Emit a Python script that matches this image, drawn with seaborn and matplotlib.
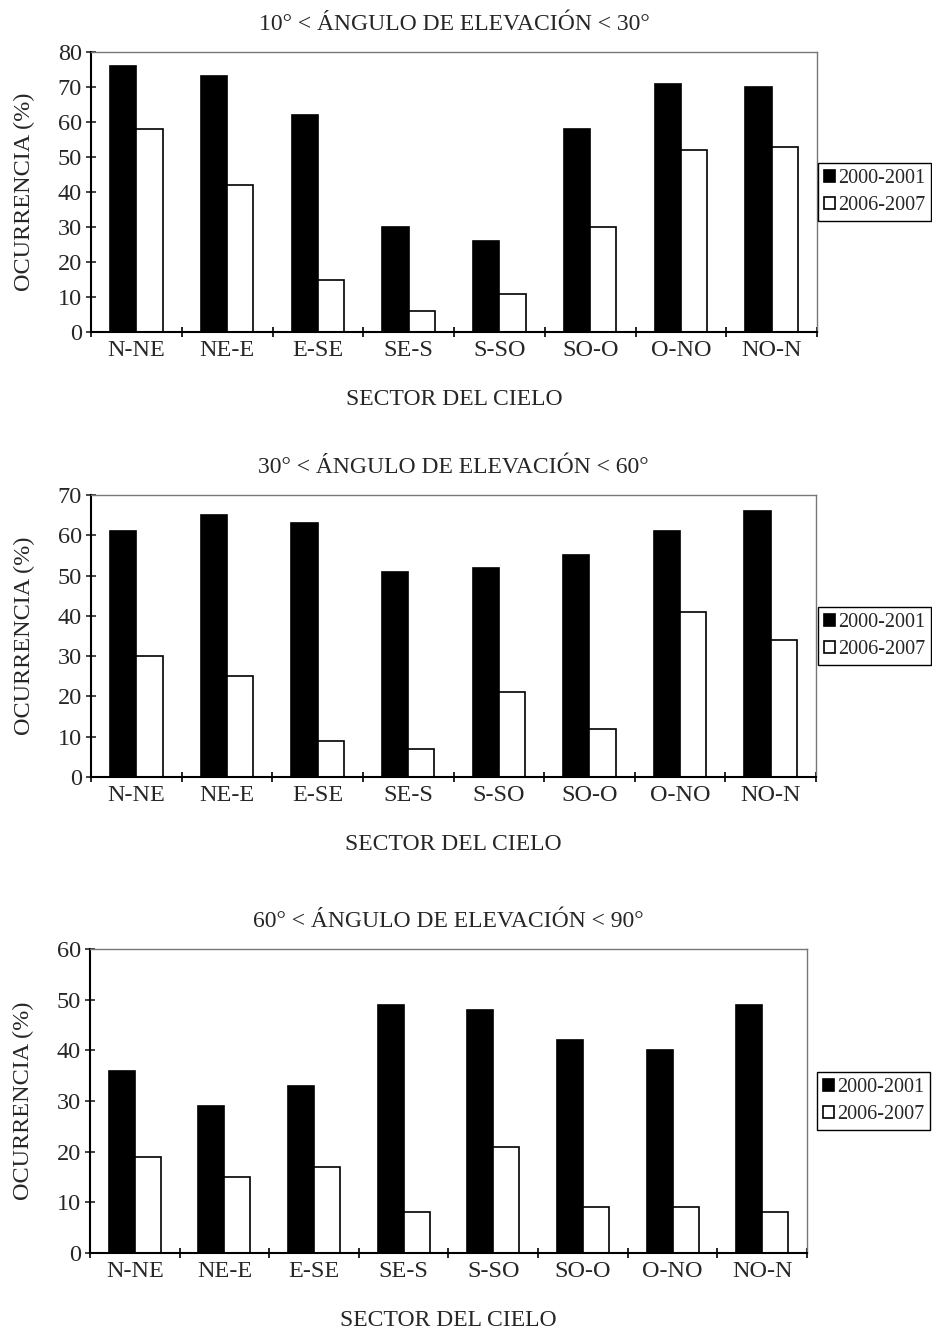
import pandas as pd
import numpy as np
import matplotlib
matplotlib.use("Agg")
import matplotlib.pyplot as plt
import seaborn as sns
from matplotlib.ticker import FixedLocator, MultipleLocator

# data
sectors = ["N-NE", "NE-E", "E-SE", "SE-S", "S-SO", "SO-O", "O-NO", "NO-N"]
periods = ["2000-2001", "2006-2007"]

low_2000 = [76, 73, 62, 30, 26, 58, 71, 70]
low_2006 = [58, 42, 15, 6, 11, 30, 52, 53]
mid_2000 = [61, 65, 63, 51, 52, 55, 61, 66]
mid_2006 = [30, 25, 9, 7, 21, 12, 41, 34]
high_2000 = [36, 29, 33, 49, 48, 42, 40, 49]
high_2006 = [19, 15, 17, 8, 21, 9, 9, 8]

titles = ["10° < ÁNGULO DE ELEVACIÓN < 30°",
          "30° < ÁNGULO DE ELEVACIÓN < 60°",
          "60° < ÁNGULO DE ELEVACIÓN < 90°"]
ymax = [80, 70, 60]

sns.set_style("white")
plt.rcParams["font.family"] = ["Liberation Serif", "DejaVu Serif"]

fig = plt.figure(figsize=(9.32, 13.29), dpi=100)
W, H = 932, 1329

# axes boxes in pixels: left, top, right, bottom
boxes = [(91, 52, 817, 332), (91, 495, 816, 777), (90, 949, 807, 1253)]
legend_pos = [(931, 192), (931, 636), (930, 1101)]

series = [(low_2000, low_2006), (mid_2000, mid_2006), (high_2000, high_2006)]

for i, (a, b) in enumerate(series):
    l, t, r, btm = boxes[i]
    ax = fig.add_axes([l / W, 1 - btm / H, (r - l) / W, (btm - t) / H])

    df = pd.DataFrame({
        "sector": sectors * 2,
        "periodo": [periods[0]] * 8 + [periods[1]] * 8,
        "valor": a + b,
    })
    sns.barplot(data=df, x="sector", y="valor", hue="periodo",
                palette=["black", "white"], width=0.58, edgecolor="black",
                linewidth=1.2, saturation=1, ax=ax)

    ax.set_xlim(-0.5, 7.5)
    ax.set_ylim(0, ymax[i])
    ax.yaxis.set_major_locator(MultipleLocator(10))

    # category ticks sit between groups, labels at the centre
    ax.xaxis.set_minor_locator(FixedLocator(np.arange(-0.5, 8, 1)))
    ax.tick_params(axis="x", which="major", length=0, pad=6, labelsize=17.5)
    ax.tick_params(axis="x", which="minor", direction="inout", length=7,
                   width=1.2, color="black", bottom=True)
    ax.tick_params(axis="y", direction="inout", length=7, width=1.2,
                   labelsize=17.5, pad=3, left=True)

    for side in ["top", "right"]:
        ax.spines[side].set_color("#777777")
        ax.spines[side].set_linewidth(1.0)
    for side in ["left", "bottom"]:
        ax.spines[side].set_color("black")
        ax.spines[side].set_linewidth(1.5)

    ax.set_xlabel("SECTOR DEL CIELO", fontsize=17, labelpad=20)
    ax.set_ylabel("OCURRENCIA (%)", fontsize=17.5, labelpad=16)
    ax.set_title(titles[i], fontsize=17, pad=16)

    handles, labels = ax.get_legend_handles_labels()
    if ax.legend_:
        ax.legend_.remove()
    lx, ly = legend_pos[i]
    fig.legend(handles, labels, loc="center right",
               bbox_to_anchor=(lx / W, 1 - ly / H), fontsize=14.5,
               frameon=True, fancybox=False, edgecolor="black",
               framealpha=1, borderpad=0.3, handlelength=0.55,
               handleheight=0.55, handletextpad=0.15, labelspacing=0.4,
               borderaxespad=0)

fig.savefig("out.png", dpi=100, facecolor="white")
